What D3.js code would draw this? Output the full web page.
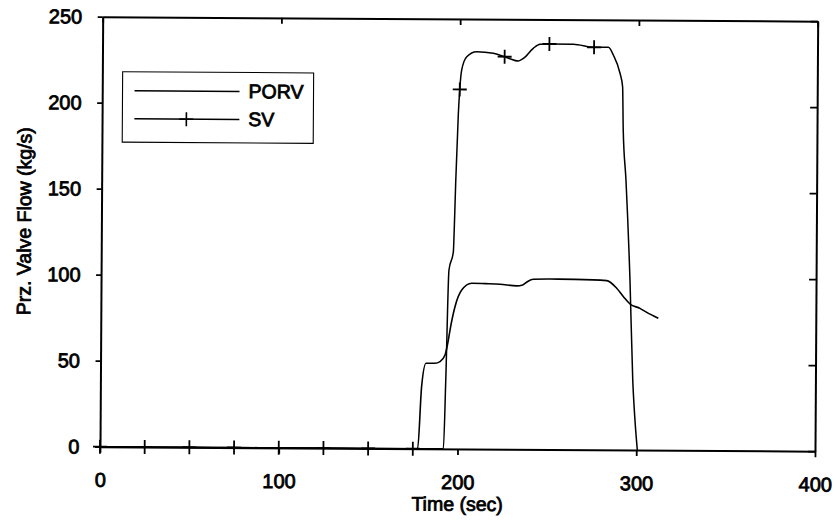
<!DOCTYPE html>
<html>
<head>
<meta charset="utf-8">
<script src="https://cdn.jsdelivr.net/npm/d3@7/dist/d3.min.js"></script>
<style>
  html, body { margin: 0; padding: 0; background: #fff; }
  svg { display: block; }
  text { font-family: "Liberation Sans", Arial, sans-serif; fill: #000; stroke: #000; stroke-width: 0.8px; }
</style>
</head>
<body>
<svg id="chart" width="837" height="521"></svg>
<script>
// Axis ticks
const timeTicks = [0, 100, 200, 300, 400];
const flowTicks = [0, 50, 100, 150, 200, 250];

// PORV flow (kg/s) versus time (sec)
const porvTime = [0, 177.7, 179.7, 182.1, 187.1, 189.9, 192.7, 194.5, 195.4, 198.1, 201.8, 207.4, 215, 223.2, 232.6, 235.9, 238.5, 241.8, 251.2, 265, 282.9, 288.5, 292.3, 296.0, 301.6, 305.4, 311.9];
const porvFlow = [0, 0, 36.1, 49.7, 49.7, 50.7, 54.6, 63.3, 69.1, 82.7, 92.4, 96.4, 96.2, 95.9, 95.0, 95.6, 97.5, 98.9, 99.1, 99.0, 98.4, 94.0, 89.1, 84.9, 82.4, 80.1, 76.7];

// SV flow (kg/s) versus time (sec); samples every 25 s carry a "+" marker
const svTime = [0, 25, 50, 75, 100, 125, 150, 175, 192.1, 193.2, 194.6, 197.0, 197.4, 198.1, 199.3, 200, 201, 203.8, 209.3, 218.6, 225, 232.7, 235.5, 241, 244.7, 250, 263.4, 275, 283, 285.8, 289.6, 291.1, 291.6, 293.3, 295.9, 297.8, 299, 300.6];
const svFlow = [0, 0, 0, 0, 0, 0, 0, 0, 0, 40.1, 104, 114.7, 127.3, 156.3, 195, 209, 220.3, 228.1, 231, 230.2, 228.2, 225.8, 227.3, 233.2, 235.6, 235.8, 235.7, 234, 234.1, 229.6, 219, 211.2, 186, 157, 98.8, 40.7, 20, 0];

const seriesNames = ["PORV", "SV"];

const porv = porvTime.map((t, i) => ({ t, v: porvFlow[i] }));
const sv = svTime.map((t, i) => ({ t, v: svFlow[i] }));
const svMarkers = sv.filter(d => d.t % 25 === 0);

const x = d3.scaleLinear().domain([0, 400]).range([100, 815]);
const y = d3.scaleLinear().domain([0, 250]).range([446.7, 16.7]);

const svg = d3.select("#chart");
svg.append("rect").attr("width", 837).attr("height", 521).attr("fill", "#fff");

// whole plot sits slightly tilted about its lower-left corner
const g = svg.append("g").attr("transform", "rotate(0.36,100,446.7)");

const crossPath = "M-7,0H7M0,-7V7";

function styleAxis(sel) {
  sel.select(".domain").attr("stroke", "#000").attr("stroke-width", 2);
  sel.selectAll(".tick line").attr("stroke", "#000").attr("stroke-width", 1.8);
  sel.selectAll(".tick text").attr("font-size", 20).attr("fill", "#000");
}

// frame: top and right edges with inward ticks
g.append("g")
  .attr("transform", `translate(0,${y(250)})`)
  .call(d3.axisTop(x).tickValues(timeTicks).tickSizeInner(-6).tickSizeOuter(0).tickFormat(""))
  .call(styleAxis);
g.append("g")
  .attr("transform", `translate(${x(400)},0)`)
  .call(d3.axisRight(y).tickValues(flowTicks).tickSizeInner(-7).tickSizeOuter(0).tickFormat(""))
  .call(styleAxis);

// series
const line = d3.line().x(d => x(d.t)).y(d => y(d.v)).curve(d3.curveMonotoneX);

g.append("path").datum(porv)
  .attr("d", line).attr("fill", "none").attr("stroke", "#000").attr("stroke-width", 1.6);
g.append("path").datum(sv)
  .attr("d", line).attr("fill", "none").attr("stroke", "#000").attr("stroke-width", 1.5);
g.selectAll(".sv-marker").data(svMarkers).enter().append("path")
  .attr("class", "sv-marker")
  .attr("transform", d => `translate(${x(d.t)},${y(d.v)})`)
  .attr("d", crossPath).attr("stroke", "#000").attr("stroke-width", 1.8).attr("fill", "none");

// bottom and left axes with labels
g.append("g")
  .attr("transform", `translate(0,${y(0)})`)
  .call(d3.axisBottom(x).tickValues(timeTicks).tickSizeInner(6).tickSizeOuter(0).tickPadding(20).tickFormat(d3.format("d")))
  .call(styleAxis);
g.append("g")
  .attr("transform", `translate(${x(0)},0)`)
  .call(d3.axisLeft(y).tickValues(flowTicks).tickSizeInner(5).tickSizeOuter(0).tickPadding(15.5).tickFormat(d3.format("d")))
  .call(styleAxis);

// axis titles
g.append("text")
  .attr("x", (x(0) + x(400)) / 2).attr("y", 508.5)
  .attr("text-anchor", "middle").attr("font-size", 19.5)
  .text("Time (sec)");
g.append("text")
  .attr("transform", `translate(29.5,${(y(0) + y(250)) / 2 - 10})rotate(-90)`)
  .attr("text-anchor", "middle").attr("font-size", 19.5)
  .text("Prz. Valve Flow (kg/s)");

// legend
const legend = g.append("g").attr("transform", "translate(120.3,71.6)");
legend.append("rect").attr("width", 191).attr("height", 70.4)
  .attr("fill", "#fff").attr("stroke", "#000").attr("stroke-width", 1.1);
seriesNames.forEach((name, i) => {
  const ly = 19 + i * 28;
  legend.append("line").attr("x1", 12).attr("x2", 117).attr("y1", ly).attr("y2", ly)
    .attr("stroke", "#000").attr("stroke-width", 1.4);
  if (name === "SV") {
    legend.append("path").attr("transform", `translate(64,${ly})`)
      .attr("d", crossPath).attr("stroke", "#000").attr("stroke-width", 1.6);
  }
  legend.append("text").attr("x", 126).attr("y", ly + 6.6)
    .attr("font-size", 19.5).text(name);
});
</script>
</body>
</html>
